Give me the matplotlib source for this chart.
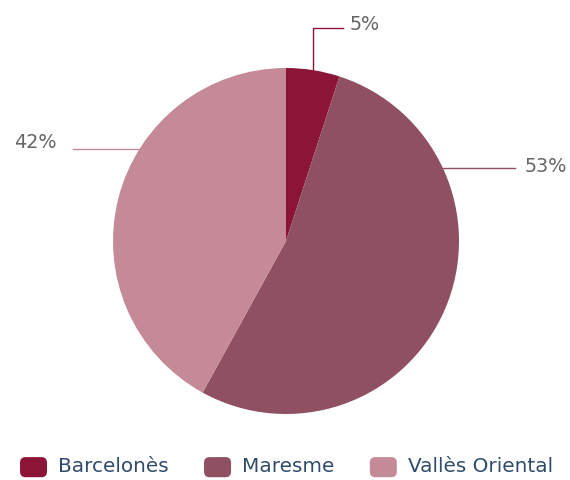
import numpy as np
import matplotlib
matplotlib.use("Agg")
import matplotlib.pyplot as plt
from matplotlib.patches import Patch, FancyBboxPatch
from matplotlib.legend_handler import HandlerPatch

categories = ["Barcelonès", "Maresme", "Vallès Oriental"]
values = [5, 53, 42]
colors = ["#8C1537", "#8F5062", "#C48A97"]

W, H = 570, 480
fig = plt.figure(figsize=(W / 100, H / 100), dpi=100)
ax = fig.add_axes([0, 0, 1, 1])

cx, cy, R = 286, H - 241, 173
wedges, _ = ax.pie(values, colors=colors, startangle=90, counterclock=False,
                   center=(cx, cy), radius=R,
                   wedgeprops=dict(linewidth=0))
ax.set_xlim(0, W)
ax.set_ylim(0, H)
ax.set_aspect("equal")
ax.axis("off")

lab_color = "#666666"
fs = 13.8

# 5% label: elbow leader from slice midpoint
a0 = np.deg2rad(90 - 360 * values[0] / 2 / sum(values))
px, py = cx + R * np.cos(a0), cy + R * np.sin(a0)
ty = H - 28
ax.plot([px, px, px + 30], [py, ty, ty], color=colors[0], lw=1)
ax.text(px + 36, ty + 3, f"{values[0]}%", color=lab_color, fontsize=fs,
        ha="left", va="center")

# 53% label: horizontal leader
ly = H - 168
dx = np.sqrt(R**2 - (ly - cy) ** 2)
ax.plot([cx + dx, 515], [ly, ly], color=colors[1], lw=1)
ax.text(525, ly + 2, f"{values[1]}%", color=lab_color, fontsize=fs,
        ha="left", va="center")

# 42% label
ly = H - 149
dx = np.sqrt(R**2 - (ly - cy) ** 2)
ax.plot([73, cx - dx], [ly, ly], color=colors[2], lw=1)
ax.text(57, ly + 6, f"{values[2]}%", color=lab_color, fontsize=fs,
        ha="right", va="center")


class RoundRect(HandlerPatch):
    def create_artists(self, legend, orig_handle, xdescent, ydescent,
                       width, height, fontsize, trans):
        p = FancyBboxPatch((-xdescent, -ydescent - 3), width, height + 3,
                           boxstyle="round,pad=0,rounding_size=4",
                           facecolor=orig_handle.get_facecolor(),
                           edgecolor="none", transform=trans)
        return [p]


handles = [Patch(facecolor=c) for c in colors]
leg = ax.legend(handles, categories, loc="lower center",
                bbox_to_anchor=(0.5026, 0.0), ncol=3, frameon=False,
                fontsize=14.4, handlelength=1.35, handleheight=0.85,
                handletextpad=0.55, columnspacing=1.77, borderpad=0.1,
                borderaxespad=0.1, labelcolor="#2F4B6C",
                handler_map={Patch: RoundRect()})

fig.savefig("out.png", dpi=100)
